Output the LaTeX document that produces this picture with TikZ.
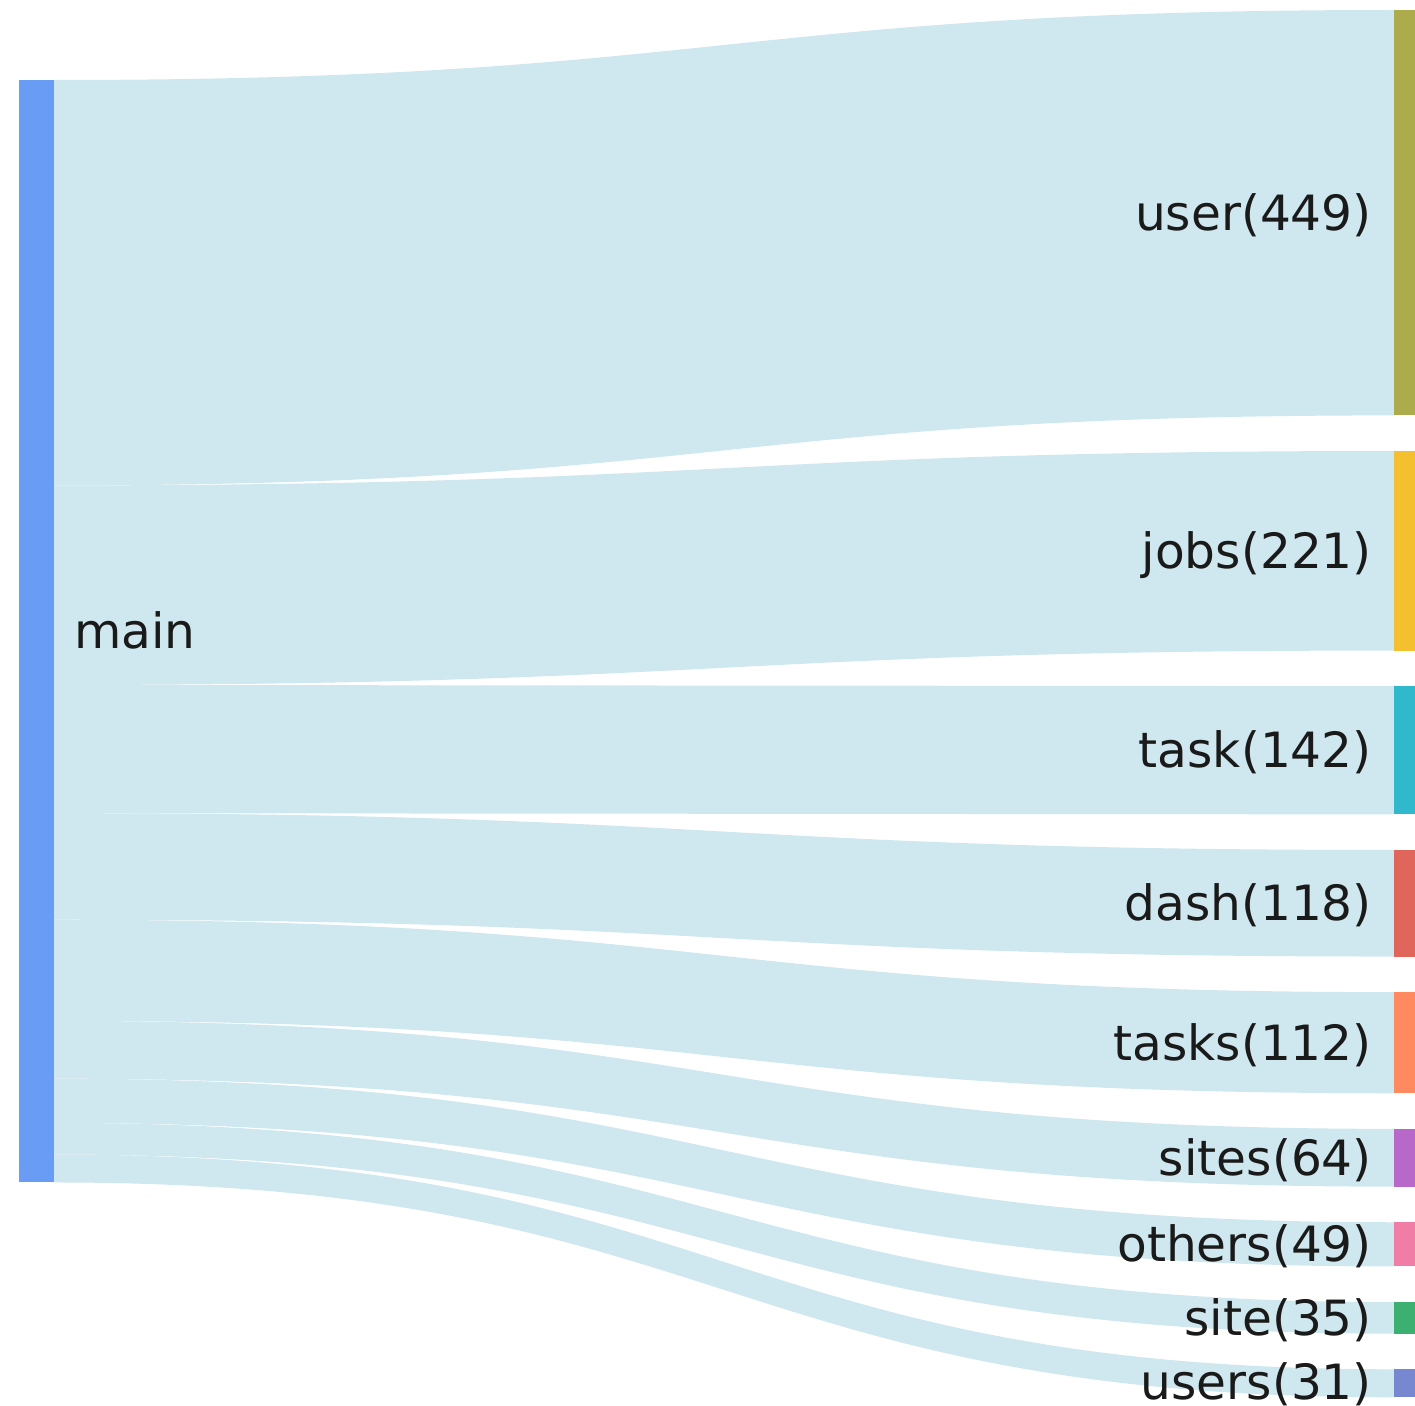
\documentclass[tikz,border=0pt]{standalone}
\usepackage{fontspec}
\newfontfamily\labelfont{DejaVu Sans}
\definecolor{flowblue}{RGB}{207,231,238}
\definecolor{cmain}{RGB}{104,156,245}
\definecolor{cuser}{RGB}{172,172,76}
\definecolor{cjobs}{RGB}{245,192,48}
\definecolor{ctask}{RGB}{48,184,204}
\definecolor{cdash}{RGB}{224,102,92}
\definecolor{ctasks}{RGB}{255,138,96}
\definecolor{csites}{RGB}{183,104,200}
\definecolor{cothers}{RGB}{240,125,165}
\definecolor{csite}{RGB}{60,176,112}
\definecolor{cusers}{RGB}{120,136,208}
\definecolor{txt}{RGB}{26,26,26}
% one ribbon from the source bar (x=54) to a target bar (x=1394)
% #1,#2: top/bottom on the left; #3,#4: top/bottom on the right
\newcommand{\ribbon}[4]{%
  \fill[flowblue] (54,#1) .. controls (724,#1) and (724,#3) .. (1394,#3)
    -- (1394,#4) .. controls (724,#4) and (724,#2) .. (54,#2) -- cycle;}
\begin{document}
\begin{tikzpicture}[x=1pt,y=-1pt,
  bar/.style={inner sep=0pt,outer sep=0pt,minimum width=21pt,anchor=north west},
  lbl/.style={inner sep=0pt,text=txt,font=\labelfont\fontsize{48.6}{58}\selectfont}]
\useasboundingbox (0,0) rectangle (1415,1405);
% ribbons
\ribbon{80}{485.4}{10}{415.4}
\ribbon{485.4}{684.95}{451.0}{650.55}
\ribbon{684.95}{813.17}{686.15}{814.37}
\ribbon{813.17}{919.72}{849.97}{956.52}
\ribbon{919.72}{1020.85}{992.12}{1093.25}
\ribbon{1020.85}{1078.64}{1128.85}{1186.64}
\ribbon{1078.64}{1122.88}{1222.24}{1266.48}
\ribbon{1122.88}{1154.48}{1302.08}{1333.68}
\ribbon{1154.48}{1182.47}{1369.28}{1397.27}
% source bar
\node[bar,fill=cmain,minimum width=35pt,minimum height=1102.47pt] (main) at (19,80) {};
% target bars
\node[bar,fill=cuser,minimum height=405.4pt] (user) at (1394,10) {};
\node[bar,fill=cjobs,minimum height=199.55pt] (jobs) at (1394,451.0) {};
\node[bar,fill=ctask,minimum height=128.22pt] (task) at (1394,686.15) {};
\node[bar,fill=cdash,minimum height=106.55pt] (dash) at (1394,849.97) {};
\node[bar,fill=ctasks,minimum height=101.13pt] (tasks) at (1394,992.12) {};
\node[bar,fill=csites,minimum height=57.79pt] (sites) at (1394,1128.85) {};
\node[bar,fill=cothers,minimum height=44.24pt] (others) at (1394,1222.24) {};
\node[bar,fill=csite,minimum height=31.6pt] (site) at (1394,1302.08) {};
\node[bar,fill=cusers,minimum height=27.99pt] (users) at (1394,1369.28) {};
% labels
\node[lbl,anchor=base west] (lmain) at (74,648) {main};
\node[lbl,anchor=base east] (luser) at (1372,230) {user(449)};
\node[lbl,anchor=base east] (ljobs) at (1372,568) {jobs(221)};
\node[lbl,anchor=base east] (ltask) at (1372,767.5) {task(142)};
\node[lbl,anchor=base east] (ldash) at (1372,920.5) {dash(118)};
\node[lbl,anchor=base east] (ltasks) at (1372,1060) {tasks(112)};
\node[lbl,anchor=base east] (lsites) at (1372,1175) {sites(64)};
\node[lbl,anchor=base east] (lothers) at (1372,1261.5) {others(49)};
\node[lbl,anchor=base east] (lsite) at (1372,1335) {site(35)};
\node[lbl,anchor=base east] (lusers) at (1372,1399.5) {users(31)};
\end{tikzpicture}
\end{document}
